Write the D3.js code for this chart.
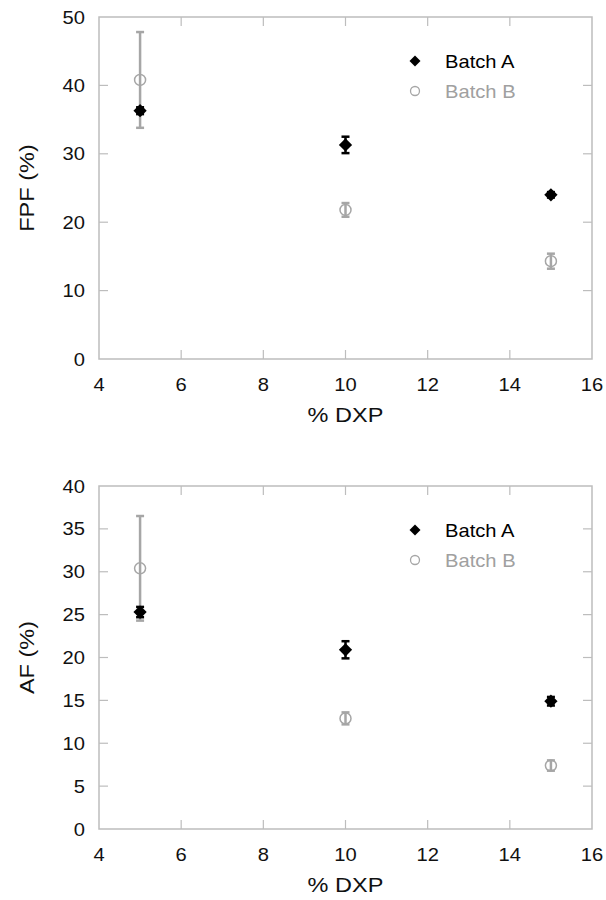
<!DOCTYPE html>
<html><head><meta charset="utf-8">
<script src="https://cdn.jsdelivr.net/npm/d3@7"></script>
<style>body{margin:0;background:#fff}svg{display:block}text{font-family:"Liberation Sans",Arial,sans-serif}</style>
</head><body>
<script>
const xValues = [5, 10, 15];
const xTicks = [4, 6, 8, 10, 12, 14, 16];
const seriesNames = ["Batch A", "Batch B"];

const fpfA = [36.3, 31.3, 24.0];
const fpfAErr = [0.5, 1.2, 0.4];
const fpfB = [40.8, 21.8, 14.3];
const fpfBErr = [7.0, 1.0, 1.1];
const fpfTicks = [0, 10, 20, 30, 40, 50];

const afA = [25.3, 20.9, 14.9];
const afAErr = [0.6, 1.0, 0.5];
const afB = [30.4, 12.9, 7.4];
const afBErr = [6.1, 0.7, 0.6];
const afTicks = [0, 5, 10, 15, 20, 25, 30, 35, 40];

const W = 606, H = 900;
const svg = d3.select("body").append("svg").attr("width", W).attr("height", H);

const frameColor = "#bdbdbd";
const greyColor = "#a6a6a6";
const greyText = "#a0a0a0";
const SX = 1.12;

function label(g, x, y, str, size, anchor, color, rot) {
  return g.append("text")
    .attr("transform", `translate(${x},${y})${rot ? " rotate(-90)" : ""} scale(${SX},1)`)
    .attr("text-anchor", anchor).attr("font-size", size).attr("fill", color)
    .text(str);
}

function panel(cfg) {
  const x = d3.scaleLinear().domain([4, 16]).range([99, 592]);
  const y = d3.scaleLinear().domain([0, cfg.yMax]).range([cfg.bottom, cfg.top]);
  const g = svg.append("g");
  const tickLen = 9;

  g.append("rect").attr("x", x(4)).attr("y", y(cfg.yMax))
    .attr("width", x(16) - x(4)).attr("height", y(0) - y(cfg.yMax))
    .attr("fill", "none").attr("stroke", frameColor).attr("stroke-width", 1.5);

  const innerX = xTicks.slice(1, -1);
  g.selectAll(".xtb").data(innerX).join("line")
    .attr("x1", d => x(d)).attr("x2", d => x(d))
    .attr("y1", y(0)).attr("y2", y(0) - tickLen)
    .attr("stroke", frameColor).attr("stroke-width", 1.2);
  g.selectAll(".xtt").data(innerX).join("line")
    .attr("x1", d => x(d)).attr("x2", d => x(d))
    .attr("y1", y(cfg.yMax)).attr("y2", y(cfg.yMax) + tickLen)
    .attr("stroke", frameColor).attr("stroke-width", 1.2);
  const innerY = cfg.yTicks.slice(1, -1);
  g.selectAll(".ytl").data(innerY).join("line")
    .attr("x1", x(4)).attr("x2", x(4) + tickLen)
    .attr("y1", d => y(d)).attr("y2", d => y(d))
    .attr("stroke", frameColor).attr("stroke-width", 1.2);
  g.selectAll(".ytr").data(innerY).join("line")
    .attr("x1", x(16)).attr("x2", x(16) - tickLen)
    .attr("y1", d => y(d)).attr("y2", d => y(d))
    .attr("stroke", frameColor).attr("stroke-width", 1.2);

  xTicks.forEach(d => label(g, x(d), y(0) + 32, d, 18, "middle", "#111"));
  cfg.yTicks.forEach(d => label(g, 85, y(d) + 6.5, d, 18, "end", "#111"));

  label(g, (x(4) + x(16)) / 2, y(0) + 63, "% DXP", 21, "middle", "#111");
  label(g, 34, (y(0) + y(cfg.yMax)) / 2, cfg.yLabel, 21, "middle", "#111", true);

  const capW = 4;
  function errBars(vals, errs, color, w) {
    const d = xValues.map((xv, i) => ({ x: xv, v: vals[i], e: errs[i] }));
    g.selectAll(null).data(d).join("line")
      .attr("x1", p => x(p.x)).attr("x2", p => x(p.x))
      .attr("y1", p => y(p.v - p.e)).attr("y2", p => y(p.v + p.e))
      .attr("stroke", color).attr("stroke-width", w);
    ["top", "bot"].forEach(s => {
      g.selectAll(null).data(d).join("line")
        .attr("x1", p => x(p.x) - capW).attr("x2", p => x(p.x) + capW)
        .attr("y1", p => y(s === "top" ? p.v + p.e : p.v - p.e))
        .attr("y2", p => y(s === "top" ? p.v + p.e : p.v - p.e))
        .attr("stroke", color).attr("stroke-width", 2.5);
    });
  }

  errBars(cfg.b, cfg.bErr, greyColor, 2.5);
  g.selectAll(null).data(xValues.map((xv, i) => [xv, cfg.b[i]])).join("circle")
    .attr("cx", p => x(p[0])).attr("cy", p => y(p[1])).attr("r", 5.5)
    .attr("fill", "none").attr("stroke", greyColor).attr("stroke-width", 1.5);

  errBars(cfg.a, cfg.aErr, "#000", 2.5);
  const diamond = d3.symbol().type(d3.symbolDiamond2).size(112);
  g.selectAll(null).data(xValues.map((xv, i) => [xv, cfg.a[i]])).join("path")
    .attr("d", diamond)
    .attr("transform", p => `translate(${x(p[0])},${y(p[1])})`)
    .attr("fill", "#000");

  const lx = 415, ly = cfg.top + 44;
  g.append("path").attr("d", d3.symbol().type(d3.symbolDiamond2).size(78)())
    .attr("transform", `translate(${lx},${ly})`).attr("fill", "#000");
  g.append("circle").attr("cx", lx).attr("cy", ly + 30).attr("r", 4.5)
    .attr("fill", "none").attr("stroke", greyColor).attr("stroke-width", 1.3);
  label(g, 445, ly + 6.5, seriesNames[0], 18, "start", "#000");
  label(g, 445, ly + 36.5, seriesNames[1], 18, "start", greyText);
}

panel({ top: 17, bottom: 359, yMax: 50, yTicks: fpfTicks, yLabel: "FPF (%)",
        a: fpfA, aErr: fpfAErr, b: fpfB, bErr: fpfBErr });
panel({ top: 486, bottom: 829, yMax: 40, yTicks: afTicks, yLabel: "AF (%)",
        a: afA, aErr: afAErr, b: afB, bErr: afBErr });
</script>
</body></html>
